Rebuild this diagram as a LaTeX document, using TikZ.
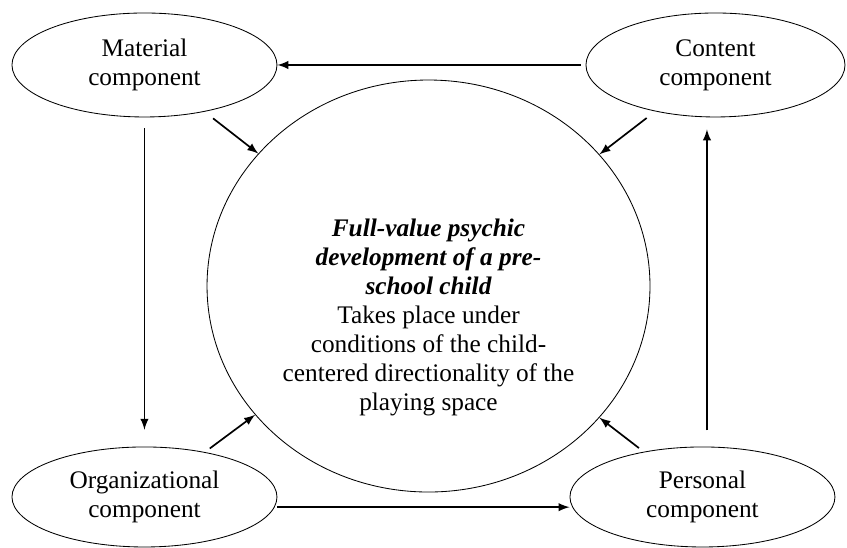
\documentclass[tikz,border=0pt]{standalone}
\usepackage{fontspec}
\setmainfont{Liberation Serif}
\tikzset{every node/.style={ellipse,align=center,draw,inner sep=0pt,font=\fontsize{12}{13.8}\selectfont}}
\tikzset{every path/.style={->,>=latex}}
\tikzset{c/.style={minimum width=4.417cm,minimum height=1.733cm}}
\tikzset{t/.style={rectangle,draw=none}}
\tikzset{a/.style={line width=0.8pt}}
\usetikzlibrary{shapes}
\begin{document}
\begin{tikzpicture}
\useasboundingbox (0,0) rectangle (14.117,-9.133);
\node[c](mat) at (2.408,-1.083) {Material\\component};
\node[c,minimum width=4.317cm](cont) at (11.925,-1.083) {Content\\component};
\node[c,minimum height=1.667cm](org) at (2.408,-8.283) {Organizational\\component};
\node[c,minimum height=1.667cm](pers) at (11.708,-8.283) {Personal\\component};
\node[minimum width=7.383cm,minimum height=6.867cm](big) at (7.142,-4.767) {};
\node[t](txt) at (7.142,-5.29) {{\bfseries\itshape Full-value psychic}\\{\bfseries\itshape development of a pre-}\\{\bfseries\itshape school child}\\Takes place under\\conditions of the child-\\centered directionality of the\\playing space};
\coordinate (up) at (11.783,0);

\draw[a,shorten <=0.08cm] (cont) -- (mat);
\foreach \s in {mat,cont}
  \draw[a,shorten <=0.18cm] (\s) -- (big);
\foreach \s in {org,pers}
  \draw[a,shorten <=0.1cm] (\s) -- (big);
\draw[a,shorten <=0.18cm,shorten >=0.28cm] (mat) -- (org);
\draw[a] ([yshift=-0.17cm]org.east) -- ([yshift=-0.17cm]pers.west);
\draw[a,shorten <=0.27cm,shorten >=0.2cm] (pers.north -| up) -- (cont.south -| up);
\end{tikzpicture}
\end{document}
